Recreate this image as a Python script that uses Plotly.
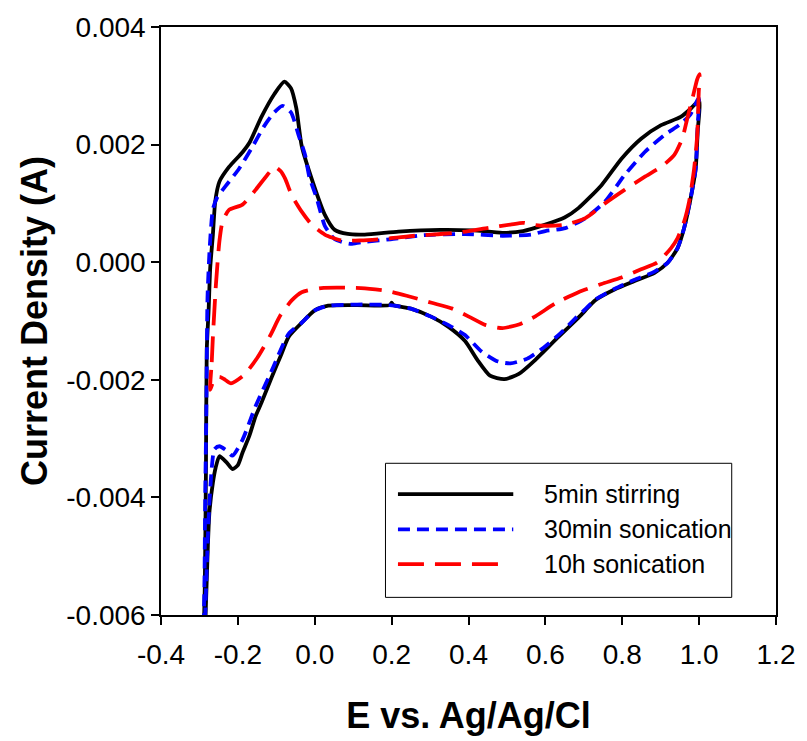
import plotly.graph_objects as go

# ---- data (E in V vs Ag/AgCl, current in A) ----
stir_x = [-0.289, -0.286, -0.283, -0.281, -0.276, -0.272, -0.265, -0.259, -0.248, -0.223, -0.188, -0.17,
          -0.138, -0.105, -0.079, -0.062, -0.048, -0.034, -0.004, 0.026, 0.052, 0.086, 0.13, 0.218, 0.326,
          0.412, 0.488, 0.542, 0.6, 0.65, 0.686, 0.746, 0.798, 0.849, 0.901, 0.952, 0.978, 1.0,
          0.996, 0.991, 0.978, 0.961, 0.944, 0.918, 0.884, 0.832, 0.781, 0.729, 0.704, 0.682, 0.628, 0.574,
          0.531, 0.493, 0.456, 0.423, 0.391, 0.348, 0.304, 0.25, 0.205, 0.2, 0.195, 0.11, 0.035, 0.0, -0.034,
          -0.068, -0.089, -0.111, -0.138, -0.154, -0.17, -0.188, -0.2, -0.214, -0.23, -0.248, -0.258, -0.265,
          -0.274, -0.278, -0.284, -0.287]
stir_y = [-0.0064, -0.0055, -0.0035, -0.0015, -0.0008, -0.0001, 0.00047, 0.00103, 0.00137, 0.00162, 0.00187,
          0.00203, 0.00248, 0.00286, 0.00307, 0.00296, 0.00262, 0.00198, 0.00134, 0.00081, 0.00055, 0.00048,
          0.00047, 0.00052, 0.00055, 0.00054, 0.0005, 0.00053, 0.00064, 0.00076, 0.00092, 0.00131, 0.00176,
          0.0021, 0.00233, 0.00247, 0.00261, 0.00275,
          0.0022, 0.00159, 0.00109, 0.00058, 0.00024, -0.00001, -0.00018, -0.00032, -0.00046, -0.00065,
          -0.00082, -0.00097, -0.00131, -0.00166, -0.0019, -0.00199, -0.00193, -0.00166, -0.00134, -0.0011,
          -0.00093, -0.00079, -0.00073, -0.00069, -0.00073, -0.00073, -0.00074, -0.00082, -0.00103,
          -0.00127, -0.0016, -0.00194, -0.00238, -0.00262, -0.00295, -0.00324, -0.00345, -0.00352, -0.0034,
          -0.0033, -0.0035, -0.00375, -0.00425, -0.00481, -0.006, -0.0064]

son30_x = [-0.29, -0.287, -0.285, -0.282, -0.279, -0.273, -0.265, -0.254, -0.23, -0.197, -0.165, -0.132,
           -0.105, -0.084, -0.062, -0.041, -0.025, -0.014, 0.005, 0.026, 0.04, 0.052, 0.078, 0.095, 0.121,
           0.197, 0.283, 0.391, 0.488, 0.563, 0.6, 0.652, 0.704, 0.755, 0.806, 0.858, 0.909, 0.952, 0.978, 0.999,
           0.996, 0.991, 0.978, 0.961, 0.944, 0.918, 0.884, 0.832, 0.781, 0.729, 0.704, 0.682, 0.639, 0.596,
           0.553, 0.509, 0.477, 0.434, 0.391, 0.348, 0.304, 0.25, 0.195, 0.11, 0.035, 0.0, -0.034, -0.068,
           -0.111, -0.154, -0.188, -0.214, -0.23, -0.248, -0.261, -0.268, -0.275, -0.28, -0.285, -0.288]
son30_y = [-0.0065, -0.0055, -0.004, -0.0025, -0.0006, 0.00028, 0.0009, 0.0011, 0.00131, 0.00159, 0.00193,
           0.00231, 0.00255, 0.00266, 0.00255, 0.00214, 0.00182, 0.00145, 0.00109, 0.00062, 0.00048, 0.00039,
           0.00033, 0.00031, 0.00034, 0.00039, 0.00046, 0.00048, 0.00045, 0.00047, 0.00053, 0.00058, 0.00075,
           0.00103, 0.00148, 0.00187, 0.00216, 0.00235, 0.00252, 0.00279,
           0.0023, 0.00159, 0.00109, 0.00058, 0.00024, -0.00001, -0.00016, -0.0003, -0.00045, -0.00064,
           -0.0008, -0.00093, -0.00121, -0.00145, -0.00164, -0.00172, -0.00169, -0.00152, -0.00124, -0.00107,
           -0.00093, -0.00079, -0.00073, -0.00072, -0.00074, -0.00082, -0.00103, -0.00122, -0.00183, -0.00245,
           -0.00302, -0.00329, -0.0032, -0.00313, -0.00318, -0.0035, -0.0042, -0.005, -0.006, -0.0065]

son10h_x = [-0.272, -0.268, -0.265, -0.257, -0.248, -0.24, -0.223, -0.188, -0.154, -0.124, -0.104, -0.089,
            -0.077, -0.06, -0.034, -0.008, 0.026, 0.069, 0.12, 0.189, 0.261, 0.369, 0.456, 0.509, 0.542, 0.574,
            0.606, 0.652, 0.704, 0.755, 0.806, 0.858, 0.901, 0.935, 0.956, 0.969, 0.982, 0.995, 1.001,
            0.999, 0.995, 0.987, 0.974, 0.961, 0.944, 0.927, 0.892, 0.849, 0.798, 0.746, 0.686, 0.626, 0.574,
            0.531, 0.488, 0.445, 0.402, 0.358, 0.304, 0.239, 0.189, 0.12, 0.017, -0.034, -0.06, -0.089, -0.116,
            -0.149, -0.184, -0.218, -0.233, -0.248, -0.262, -0.272]
son10h_y = [-0.00217, -0.0017, -0.00127, -0.00037, 0.00036, 0.00069, 0.00089, 0.00098, 0.00123, 0.00148,
            0.00162, 0.00155, 0.00142, 0.00114, 0.00086, 0.00064, 0.00047, 0.00037, 0.00037, 0.0004, 0.00045,
            0.0005, 0.00059, 0.00064, 0.00067, 0.00063, 0.00062, 0.00064, 0.00075, 0.001, 0.00123, 0.00145,
            0.00162, 0.00182, 0.0021, 0.00244, 0.00277, 0.00311, 0.0032,
            0.00289, 0.00216, 0.00159, 0.00103, 0.00069, 0.00041, 0.00024, 0.0, -0.00012, -0.00026, -0.00037,
            -0.00051, -0.0007, -0.00092, -0.00106, -0.00112, -0.00107, -0.00093, -0.00079, -0.00069, -0.00057,
            -0.00049, -0.00044, -0.00044, -0.00051, -0.00065, -0.0009, -0.00125, -0.00162, -0.00192, -0.00206,
            -0.002, -0.00195, -0.002, -0.00217]

series_names = ["5min stirring", "30min sonication", "10h sonication"]
x_tickvals = [-0.4, -0.2, 0.0, 0.2, 0.4, 0.6, 0.8, 1.0, 1.2]
x_ticktext = ["-0.4", "-0.2", "0.0", "0.2", "0.4", "0.6", "0.8", "1.0", "1.2"]
y_tickvals = [-0.006, -0.004, -0.002, 0.0, 0.002, 0.004]
y_ticktext = ["-0.006", "-0.004", "-0.002", "0.000", "0.002", "0.004"]

colors = ["#000000", "#0000ff", "#ff0000"]
dashes = ["solid", "12px,7px", "26px,11px"]
FONT = "Liberation Sans, Arial, sans-serif"

fig = go.Figure()
for xs, ys, name, c, d in zip([stir_x, son30_x, son10h_x], [stir_y, son30_y, son10h_y],
                              series_names, colors, dashes):
    fig.add_trace(go.Scatter(x=xs, y=ys, mode="lines", name=name, showlegend=False,
                             line=dict(color=c, width=3.8, dash=d, shape="spline", smoothing=0.6)))

# manual legend box (paper coords)
fig.add_shape(type="rect", xref="paper", yref="paper", x0=0.365, x1=0.928, y0=0.030, y1=0.258,
              line=dict(color="black", width=1), fillcolor="white", layer="above")
leg_rows = [0.2057, 0.1455, 0.0865]
leg_ends = [0.5728, 0.5728, 0.5547]
for name, c, d, yy, xe in zip(series_names, colors, dashes, leg_rows, leg_ends):
    fig.add_shape(type="line", xref="paper", yref="paper", x0=0.3853, x1=xe, y0=yy, y1=yy,
                  line=dict(color=c, width=3.8, dash=d), layer="above")
    fig.add_annotation(xref="paper", yref="paper", x=0.620, y=yy, text=name, showarrow=False,
                       xanchor="left", yanchor="middle", font=dict(family=FONT, size=25, color="black"))

axis_common = dict(showgrid=False, zeroline=False, showline=True, linecolor="black", linewidth=1.5,
                   mirror=True, ticks="outside", ticklen=8, tickwidth=1.5, tickcolor="black",
                   tickfont=dict(family=FONT, size=28, color="black"))

fig.update_layout(
    width=807, height=741,
    margin=dict(l=161, r=24, t=24, b=124),
    paper_bgcolor="white", plot_bgcolor="white",
    xaxis=dict(range=[-0.4, 1.2], tickvals=x_tickvals, ticktext=x_ticktext, ticklabelstandoff=6,
               title=dict(text="<b>E vs. Ag/Ag/Cl</b>", font=dict(family=FONT, size=36, color="black"),
                          standoff=33),
               **axis_common),
    yaxis=dict(range=[-0.006, 0.004], tickvals=y_tickvals, ticktext=y_ticktext, ticklabelstandoff=0,
               title=dict(text="<b>Current Density (A)</b>", font=dict(family=FONT, size=36, color="black"),
                          standoff=8),
               **axis_common),
)

fig.write_html("out.html")
